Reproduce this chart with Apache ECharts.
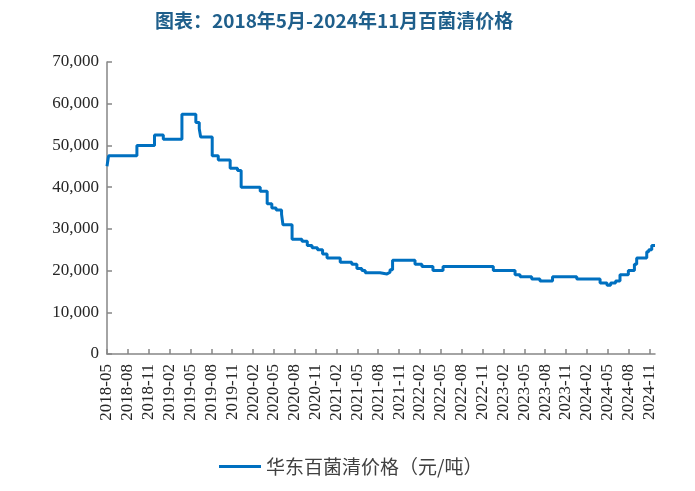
<!DOCTYPE html>
<html>
<head>
<meta charset="utf-8">
<script src="https://cdn.jsdelivr.net/npm/echarts@6/dist/echarts.min.js"></script>
<style>
  html, body { margin: 0; padding: 0; background: #fff; }
  #price_chart { width: 695px; height: 491px; }
</style>
</head>
<body>
<div id="price_chart"></div>
<script>
// 价格变动日期（每个日期起执行新价格）
const changeDates = [
  '2018-05-01', '2018-05-08', '2018-09-10', '2018-11-26', '2019-01-04',
  '2019-03-25', '2019-05-25', '2019-06-09', '2019-06-15', '2019-08-05',
  '2019-09-01', '2019-10-23', '2019-11-24', '2019-12-10', '2020-03-02',
  '2020-04-02', '2020-04-22', '2020-05-11', '2020-06-04', '2020-06-10',
  '2020-07-20', '2020-09-02', '2020-09-25', '2020-10-16', '2020-11-09',
  '2020-12-01', '2020-12-21', '2021-02-16', '2021-04-07', '2021-04-29',
  '2021-05-21', '2021-06-05', '2021-08-09', '2021-09-09', '2021-09-22',
  '2021-10-03', '2022-01-10', '2022-02-09', '2022-03-28', '2022-05-11',
  '2022-12-18', '2023-03-22', '2023-04-13', '2023-06-03', '2023-07-09',
  '2023-09-03', '2023-12-18', '2024-03-29', '2024-04-28', '2024-05-14',
  '2024-06-05', '2024-06-24', '2024-07-31', '2024-08-27', '2024-09-06',
  '2024-10-20', '2024-10-29', '2024-11-11', '2024-11-25'
];
// 华东百菌清价格（元/吨）
const prices = [
  45000, 47500, 50000, 52500, 51500,
  57500, 55500, 54000, 52000, 47500,
  46500, 44500, 44000, 40000, 39000,
  36000, 35000, 34500, 33500, 31000,
  27500, 27000, 26000, 25500, 25000,
  24000, 23000, 22000, 21500, 20500,
  20000, 19500, 19200, 19600, 20200,
  22500, 21500, 21000, 20000, 21000,
  20000, 19000, 18500, 18000, 17500,
  18500, 18000, 17000, 16500, 17000,
  17500, 19000, 20000, 21500, 23000,
  24500, 25000, 26000, 26000
];
// x轴刻度标签，每3个月一个
const tickLabels = [
  '2018-05', '2018-08', '2018-11', '2019-02', '2019-05', '2019-08', '2019-11',
  '2020-02', '2020-05', '2020-08', '2020-11', '2021-02', '2021-05', '2021-08',
  '2021-11', '2022-02', '2022-05', '2022-08', '2022-11', '2023-02', '2023-05',
  '2023-08', '2023-11', '2024-02', '2024-05', '2024-08', '2024-11'
];

// 日期 -> 相对2018-05的月份位置
function monthPos(s) {
  let [y, m, d] = s.split('-').map(Number);
  let days = new Date(y, m, 0).getDate();
  return (y - 2018) * 12 + (m - 5) + (d - 1) / days;
}

let seriesData = changeDates.map((d, i) => [monthPos(d), prices[i]]);
let tickValues = tickLabels.map((t, i) => i * 3);

let axisColor = '#868686';
let option = {
  animation: false,
  title: {
    text: '图表：2018年5月-2024年11月百菌清价格',
    left: 150,
    top: 6,
    textStyle: {
      color: '#1f5f8b',
      fontSize: 19,
      fontWeight: 'bold',
      fontFamily: 'Noto Sans CJK SC'
    }
  },
  legend: {
    data: ['华东百菌清价格（元/吨）'],
    left: 214,
    top: 452,
    itemWidth: 42,
    itemHeight: 3,
    itemGap: 8,
    icon: 'rect',
    textStyle: {
      color: '#404040',
      fontSize: 19,
      fontFamily: 'Noto Sans CJK SC'
    }
  },
  grid: { left: 107, right: 40, top: 62, bottom: 137 },
  xAxis: {
    type: 'value',
    min: 0,
    max: 78.8,
    interval: 3,
    splitLine: { show: false },
    axisLine: { lineStyle: { color: axisColor, width: 1.5 } },
    axisTick: {
      inside: true,
      length: 5,
      customValues: tickValues,
      lineStyle: { color: axisColor, width: 1.5 }
    },
    axisLabel: {
      rotate: 90,
      margin: 10,
      customValues: tickValues,
      color: '#262626',
      fontSize: 17,
      fontFamily: 'Liberation Serif',
      formatter(v) {
        return tickLabels[Math.round(v / 3)] || '';
      }
    }
  },
  yAxis: {
    type: 'value',
    min: 0,
    max: 70000,
    interval: 10000,
    splitLine: { show: false },
    axisLine: { show: true, lineStyle: { color: axisColor, width: 1.5 } },
    axisTick: {
      show: true,
      inside: true,
      length: 5,
      lineStyle: { color: axisColor, width: 1.5 }
    },
    axisLabel: {
      margin: 8,
      color: '#262626',
      fontSize: 17,
      fontFamily: 'Liberation Serif',
      formatter(v) {
        return v.toLocaleString('en-US');
      }
    }
  },
  series: [
    {
      name: '华东百菌清价格（元/吨）',
      type: 'line',
      step: 'end',
      showSymbol: false,
      lineStyle: { color: '#0070c0', width: 3 },
      itemStyle: { color: '#0070c0' },
      data: seriesData
    }
  ]
};

let myChart = echarts.init(document.getElementById('price_chart'));
myChart.setOption(option);
</script>
</body>
</html>
